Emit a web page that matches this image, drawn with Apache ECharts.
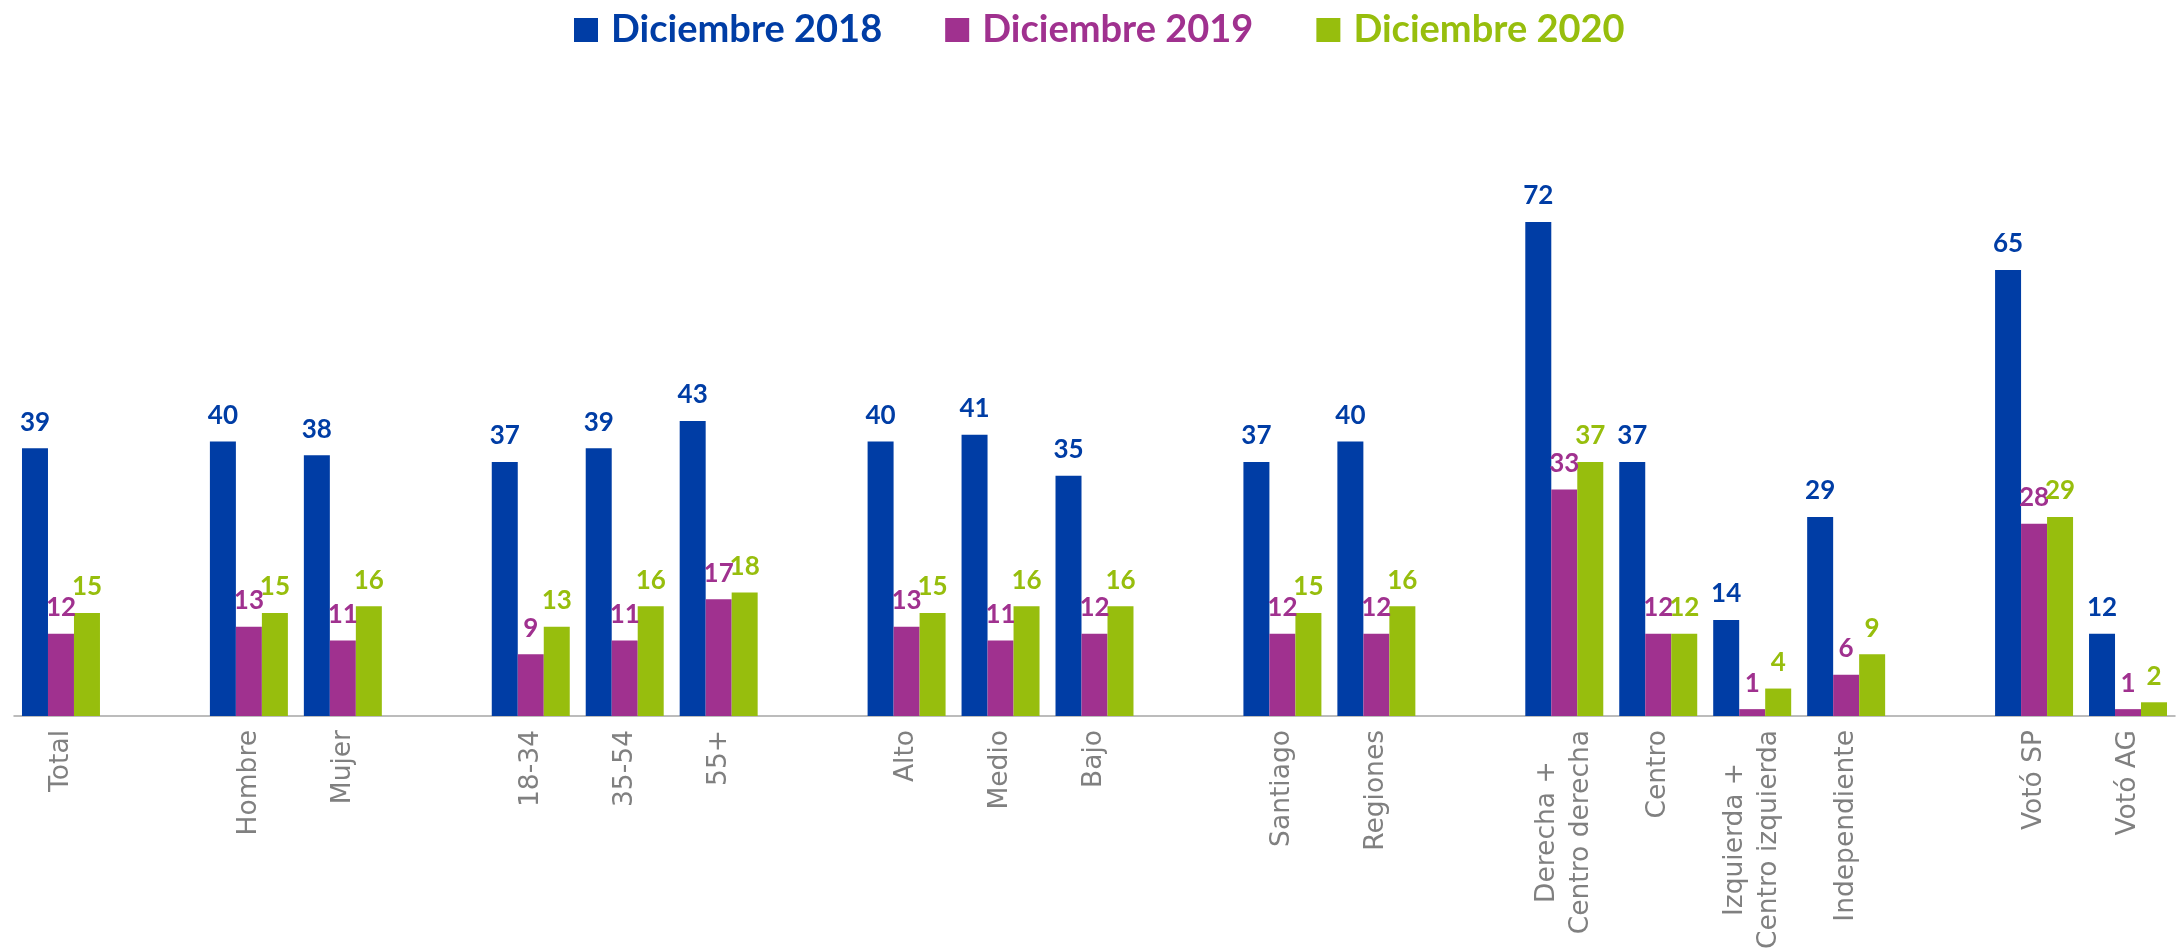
<!DOCTYPE html>
<html>
<head>
<meta charset="utf-8">
<script src="https://cdn.jsdelivr.net/npm/echarts@6/dist/echarts.min.js"></script>
<style>
    html, body { margin: 0; padding: 0; background: #fff; }
    #chart { width: 2177px; height: 952px; }
</style>
</head>
<body>
<div id="chart"></div>
<script>
// categorias (los '' son huecos entre grupos)
const categories = ['Total', '', 'Hombre', 'Mujer', '', '18-34', '35-54', '55+', '',
    'Alto', 'Medio', 'Bajo', '', 'Santiago', 'Regiones', '',
    'Derecha +\nCentro derecha', 'Centro', 'Izquierda +\nCentro izquierda', 'Independiente', '',
    'Votó SP', 'Votó AG'];
const seriesNames = ['Diciembre 2018', 'Diciembre 2019', 'Diciembre 2020'];
const dic2018 = [39, null, 40, 38, null, 37, 39, 43, null, 40, 41, 35, null, 37, 40, null, 72, 37, 14, 29, null, 65, 12];
const dic2019 = [12, null, 13, 11, null, 9, 11, 17, null, 13, 11, 12, null, 12, 12, null, 33, 12, 1, 6, null, 28, 1];
const dic2020 = [15, null, 15, 16, null, 13, 16, 18, null, 15, 16, 16, null, 15, 16, null, 37, 12, 4, 9, null, 29, 2];
const colors = ['#003da5', '#a0318f', '#97be0d'];

let chart = echarts.init(document.getElementById('chart'));

let seriesData = [dic2018, dic2019, dic2020];
let series = seriesNames.map((name, i) => {
    return {
        name: name,
        type: 'bar',
        barGap: 0,
        barCategoryGap: '17%',
        itemStyle: { color: colors[i] },
        label: {
            show: true,
            position: 'top',
            distance: 13,
            color: colors[i],
            fontFamily: 'Lato',
            fontWeight: 'bold',
            fontSize: 26
        },
        data: seriesData[i].map(v => v === null ? '-' : v)
    };
});

let option = {
    animation: false,
    legend: {
        left: 569,
        top: 6,
        itemWidth: 24,
        itemHeight: 24,
        itemGap: 63,
        icon: 'rect',
        data: seriesNames.map((n, i) => {
            return {
                name: n,
                textStyle: {
                    color: colors[i],
                    fontFamily: 'Lato',
                    fontWeight: 'bold',
                    fontSize: 38,
                    padding: [0, 0, 0, 8]
                }
            };
        })
    },
    grid: {
        left: 14,
        right: 2,
        top: 167,
        bottom: 236,
        containLabel: false
    },
    xAxis: {
        type: 'category',
        data: categories,
        axisLine: { lineStyle: { color: '#a6a6a6', width: 1.5 } },
        axisTick: { interval: 0, length: 10, lineStyle: { color: '#a6a6a6', width: 1.5 } },
        axisLabel: {
            interval: 0,
            rotate: 90,
            margin: 14,
            formatter: v => v.split('\n').map(s => '{c|' + s + '}').join('\n'),
            rich: {
                c: {
                    align: 'center',
                    fontFamily: 'DejaVu Sans',
                    fontSize: 26.5,
                    lineHeight: 34,
                    color: '#808080'
                }
            }
        }
    },
    yAxis: {
        type: 'value',
        min: 0,
        max: 80,
        show: false,
        splitLine: { show: false }
    },
    series: series
};
chart.setOption(option);
</script>
</body>
</html>
